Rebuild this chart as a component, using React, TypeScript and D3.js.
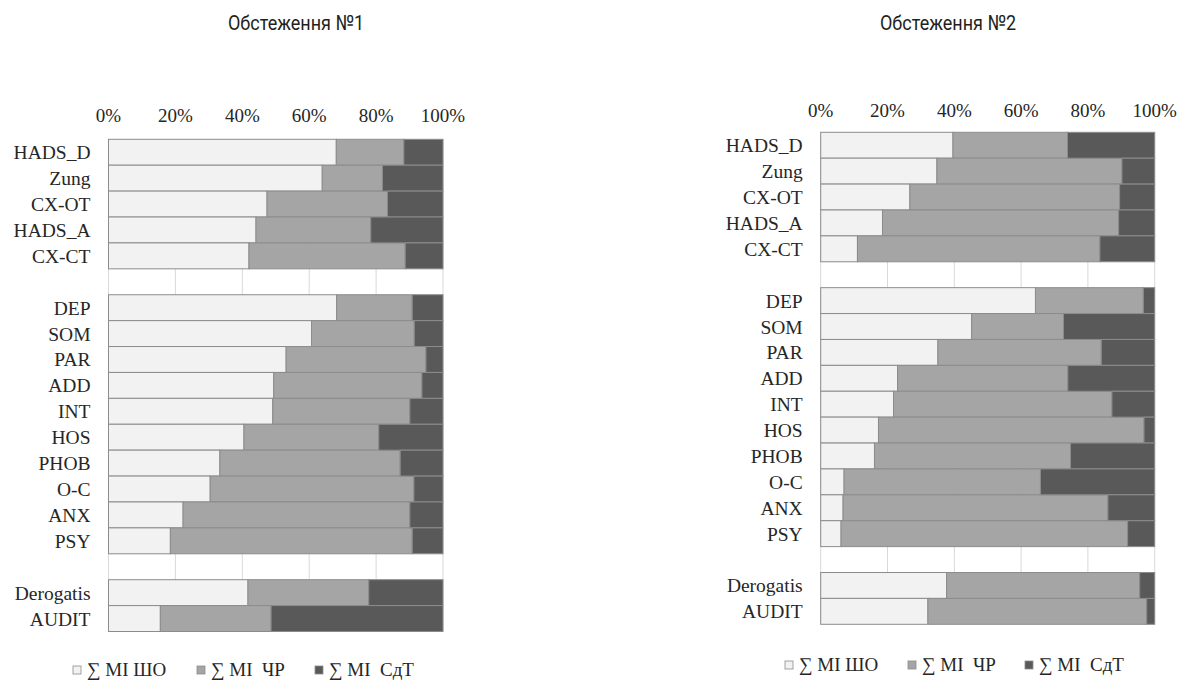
import * as d3 from "d3"

// categories, "" rows are the empty separators between groups
const categories = [
  "HADS_D", "Zung", "CX-OT", "HADS_A", "CX-CT", "",
  "DEP", "SOM", "PAR", "ADD", "INT", "HOS", "PHOB", "O-C", "ANX", "PSY", "",
  "Derogatis", "AUDIT",
]

const seriesNames = ["∑ MI ШО", "∑ MI  ЧР", "∑ MI  СдТ"]
const colors = ["#f2f2f2", "#a5a5a5", "#595959"]
const ticks = [0, 20, 40, 60, 80, 100]

// survey 1, shares in %
const s1Sho = [68.1, 63.9, 47.4, 44.1, 42.0, null, 68.2, 60.7, 53.1, 49.4, 49.1, 40.5, 33.3, 30.4, 22.3, 18.5, null, 41.7, 15.5]
const s1Chr = [20.2, 18.0, 36.0, 34.3, 46.7, null, 22.6, 30.7, 41.8, 44.3, 41.0, 40.3, 53.9, 60.9, 67.8, 72.3, null, 36.1, 33.1]
const s1Sdt = [11.7, 18.1, 16.6, 21.6, 11.3, null, 9.2, 8.6, 5.1, 6.3, 9.9, 19.2, 12.8, 8.7, 9.9, 9.2, null, 22.2, 51.4]

// survey 2, shares in %
const s2Sho = [39.6, 34.8, 26.7, 18.5, 11.0, null, 64.3, 45.2, 35.1, 23.0, 21.8, 17.3, 16.1, 7.0, 6.7, 6.1, null, 37.7, 32.1]
const s2Chr = [34.3, 55.4, 62.8, 70.7, 72.6, null, 32.3, 27.5, 48.9, 51.0, 65.4, 79.5, 58.7, 58.8, 79.3, 85.8, null, 57.8, 65.5]
const s2Sdt = [26.1, 9.8, 10.5, 10.8, 16.4, null, 3.4, 27.3, 16.0, 26.0, 12.8, 3.2, 25.2, 34.2, 14.0, 8.1, null, 4.5, 2.4]

const SERIF = "'Liberation Serif', 'Times New Roman', serif"
const TITLE_FONT = "Roboto, 'Open Sans', sans-serif"

interface PanelProps {
  title: string
  titleX: number
  sho: (number | null)[]
  chr: (number | null)[]
  sdt: (number | null)[]
  left: number
  right: number
  top: number
  bottom: number
  tickY: number
  legendX: number[]
  legendY: number
}

function Panel({ title, titleX, sho, chr, sdt, left, right, top, bottom, tickY, legendX, legendY }: PanelProps) {
  const table = categories.map((c, i) => ({ i, c, a: sho[i] ?? 0, b: chr[i] ?? 0, d: sdt[i] ?? 0, empty: sho[i] == null }))
  const stack = d3.stack<(typeof table)[number]>().keys(["a", "b", "d"])
  const layers = stack(table)

  const x = d3.scaleLinear().domain([0, 100]).range([left, right])
  const y = d3.scaleBand<number>().domain(d3.range(categories.length)).range([top, bottom]).padding(0)

  return (
    <g>
      {/* title is a condensed face in the original, squeeze a normal one */}
      <text
        x={titleX - 68}
        y={30}
        fontFamily={TITLE_FONT}
        fontSize={21}
        fill="#231f20"
        textLength={136}
        lengthAdjust="spacingAndGlyphs"
      >
        {title}
      </text>

      {/* grid */}
      {ticks.map((t) => (
        <line key={t} x1={x(t)} x2={x(t)} y1={top} y2={bottom} stroke="#d9d9d9" strokeWidth={1} />
      ))}
      {ticks.map((t) => (
        <text key={"t" + t} x={x(t)} y={tickY} textAnchor="middle" fontFamily={SERIF} fontSize={19} fill="#262626">
          {t}%
        </text>
      ))}

      {/* bars */}
      {layers.map((layer, k) => (
        <g key={k}>
          {layer.map((seg, i) =>
            table[i].empty ? null : (
              <rect
                key={i}
                x={x(seg[0])}
                y={y(i)!}
                width={x(seg[1]) - x(seg[0])}
                height={y.bandwidth()}
                fill={colors[k]}
                stroke="#8c8c8c"
                strokeWidth={1}
              />
            )
          )}
        </g>
      ))}

      {/* category labels */}
      {categories.map((c, i) => (
        <text key={i} x={left - 18} y={y(i)! + y.bandwidth() / 2 + 7} textAnchor="end" fontFamily={SERIF} fontSize={19.5} fill="#262626">
          {c}
        </text>
      ))}

      {/* legend */}
      {seriesNames.map((s, k) => (
        <g key={s} transform={`translate(${legendX[k]},${legendY})`}>
          <rect x={0} y={-10} width={8} height={8} fill={colors[k]} stroke="#8c8c8c" strokeWidth={0.8} />
          <text x={14} y={0} fontFamily={SERIF} fontSize={19} fill="#262626" style={{ whiteSpace: "pre" }}>
            {s}
          </text>
        </g>
      ))}
    </g>
  )
}

export default function App() {
  return (
    <div style={{ position: "absolute", left: 0, top: 0 }}>
      <svg width={1184} height={682} style={{ display: "block", background: "#fff" }}>
        <Panel
          title="Обстеження №1"
          titleX={296}
          sho={s1Sho}
          chr={s1Chr}
          sdt={s1Sdt}
          left={108.5}
          right={443}
          top={139.3}
          bottom={631.5}
          tickY={121.5}
          legendX={[73, 197, 315]}
          legendY={676}
        />
        <Panel
          title="Обстеження №2"
          titleX={948}
          sho={s2Sho}
          chr={s2Chr}
          sdt={s2Sdt}
          left={820.7}
          right={1154.7}
          top={132.3}
          bottom={624.3}
          tickY={116.5}
          legendX={[785, 908, 1025]}
          legendY={671}
        />
      </svg>
    </div>
  )
}
